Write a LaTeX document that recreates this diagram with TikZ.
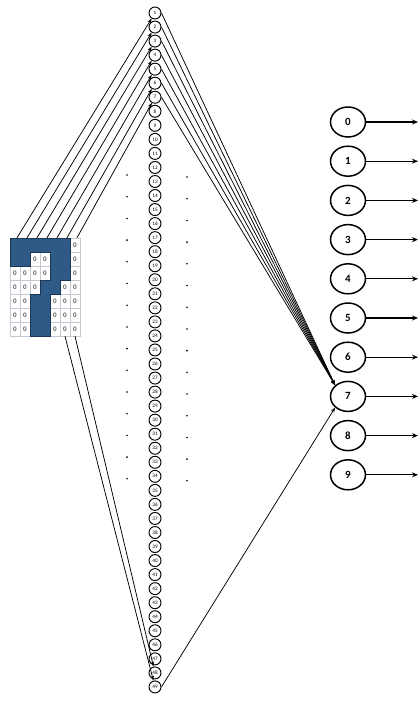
\documentclass[tikz,border=0pt]{standalone}
\usepackage{fontspec}
\setmainfont{Carlito}
\usetikzlibrary{shapes.geometric,arrows.meta}
\definecolor{qblue}{HTML}{2E5A85}
\definecolor{qedge}{HTML}{1C3657}
\definecolor{cellline}{HTML}{C4CAD3}
\definecolor{zerogray}{HTML}{5E5E5E}
\begin{document}
\begin{tikzpicture}[x=1pt,y=-1pt,
  inp/.style={circle,draw,line width=0.95pt,minimum size=12pt,inner sep=0pt,font=\fontsize{5.2}{6}\selectfont},
  outn/.style={ellipse,draw,line width=1.5pt,minimum width=35pt,minimum height=30pt,inner sep=0pt,font=\bfseries\fontsize{11}{13}\selectfont},
  cellbox/.style={rectangle,draw=cellline,line width=0.4pt,minimum width=10pt,minimum height=14pt,inner sep=0pt},
  zero/.style={inner sep=0pt,text=zerogray,font=\bfseries\fontsize{7}{8}\selectfont},
  link/.style={line width=0.75pt,-{Stealth[length=5pt,width=3.6pt]}},
  outarrow/.style={line width=1.2pt,-{Stealth[length=6pt,width=5pt]}}]
\useasboundingbox (0,0) rectangle (420,702);

% 7x7 input image
\foreach \r in {1,...,7}
  \foreach \c in {1,...,7}
    \node[cellbox] (g-\r-\c) at ({10*\c+5},{231+14*\r}) {};
\foreach \r/\cols in {1/{7},2/{3,4,7},3/{1,2,3,4,7},4/{1,2,3,6,7},5/{1,2,5,6,7},6/{1,2,5,6,7},7/{1,2,5,6,7}}
  \foreach \c in \cols
    \node[zero] (z-\r-\c) at (g-\r-\c) {0};

% the dark strokes of the digit
\filldraw[fill=qblue,draw=qedge,line width=1pt,line join=miter]
  (10,238) -- (70,238) -- (70,280) -- (60,280) -- (60,294) -- (50,294)
  -- (50,336) -- (30,336) -- (30,294) -- (40,294) -- (40,280) -- (50,280)
  -- (50,252) -- (30,252) -- (30,266) -- (10,266) -- cycle;

% input layer
\foreach \k in {1,...,49}
  \node[inp] (n\k) at (155,{13+14.04*(\k-1)}) {\k};

% output layer
\foreach \k in {0,...,9} {
  \node[outn] (o\k) at (348,{122+39.2*\k}) {\k};
  \coordinate (e\k) at (418,{122+39.2*\k});
  \draw[outarrow] (o\k) -- (e\k);
}

% pixels to input neurons
\foreach \c in {1,...,7}
  \draw[link] ([xshift=2pt]g-1-\c.north) -- (n\c);
\draw[link] (g-7-6.south) -- (n49);
\draw[link] (g-7-7.south) -- (n48);

% input neurons to output neuron 7
\foreach \k in {1,...,7}
  \draw[link] (n\k.east) -- (o7.north west);
\draw[link] (n49.east) -- (o7.south west);

% ellipsis dots
\foreach \i in {0,...,14} {
  \fill (127,{175+21.7*\i}) circle (0.9pt);
  \fill (187,{177+21.7*\i}) circle (0.9pt);
}
\end{tikzpicture}
\end{document}
